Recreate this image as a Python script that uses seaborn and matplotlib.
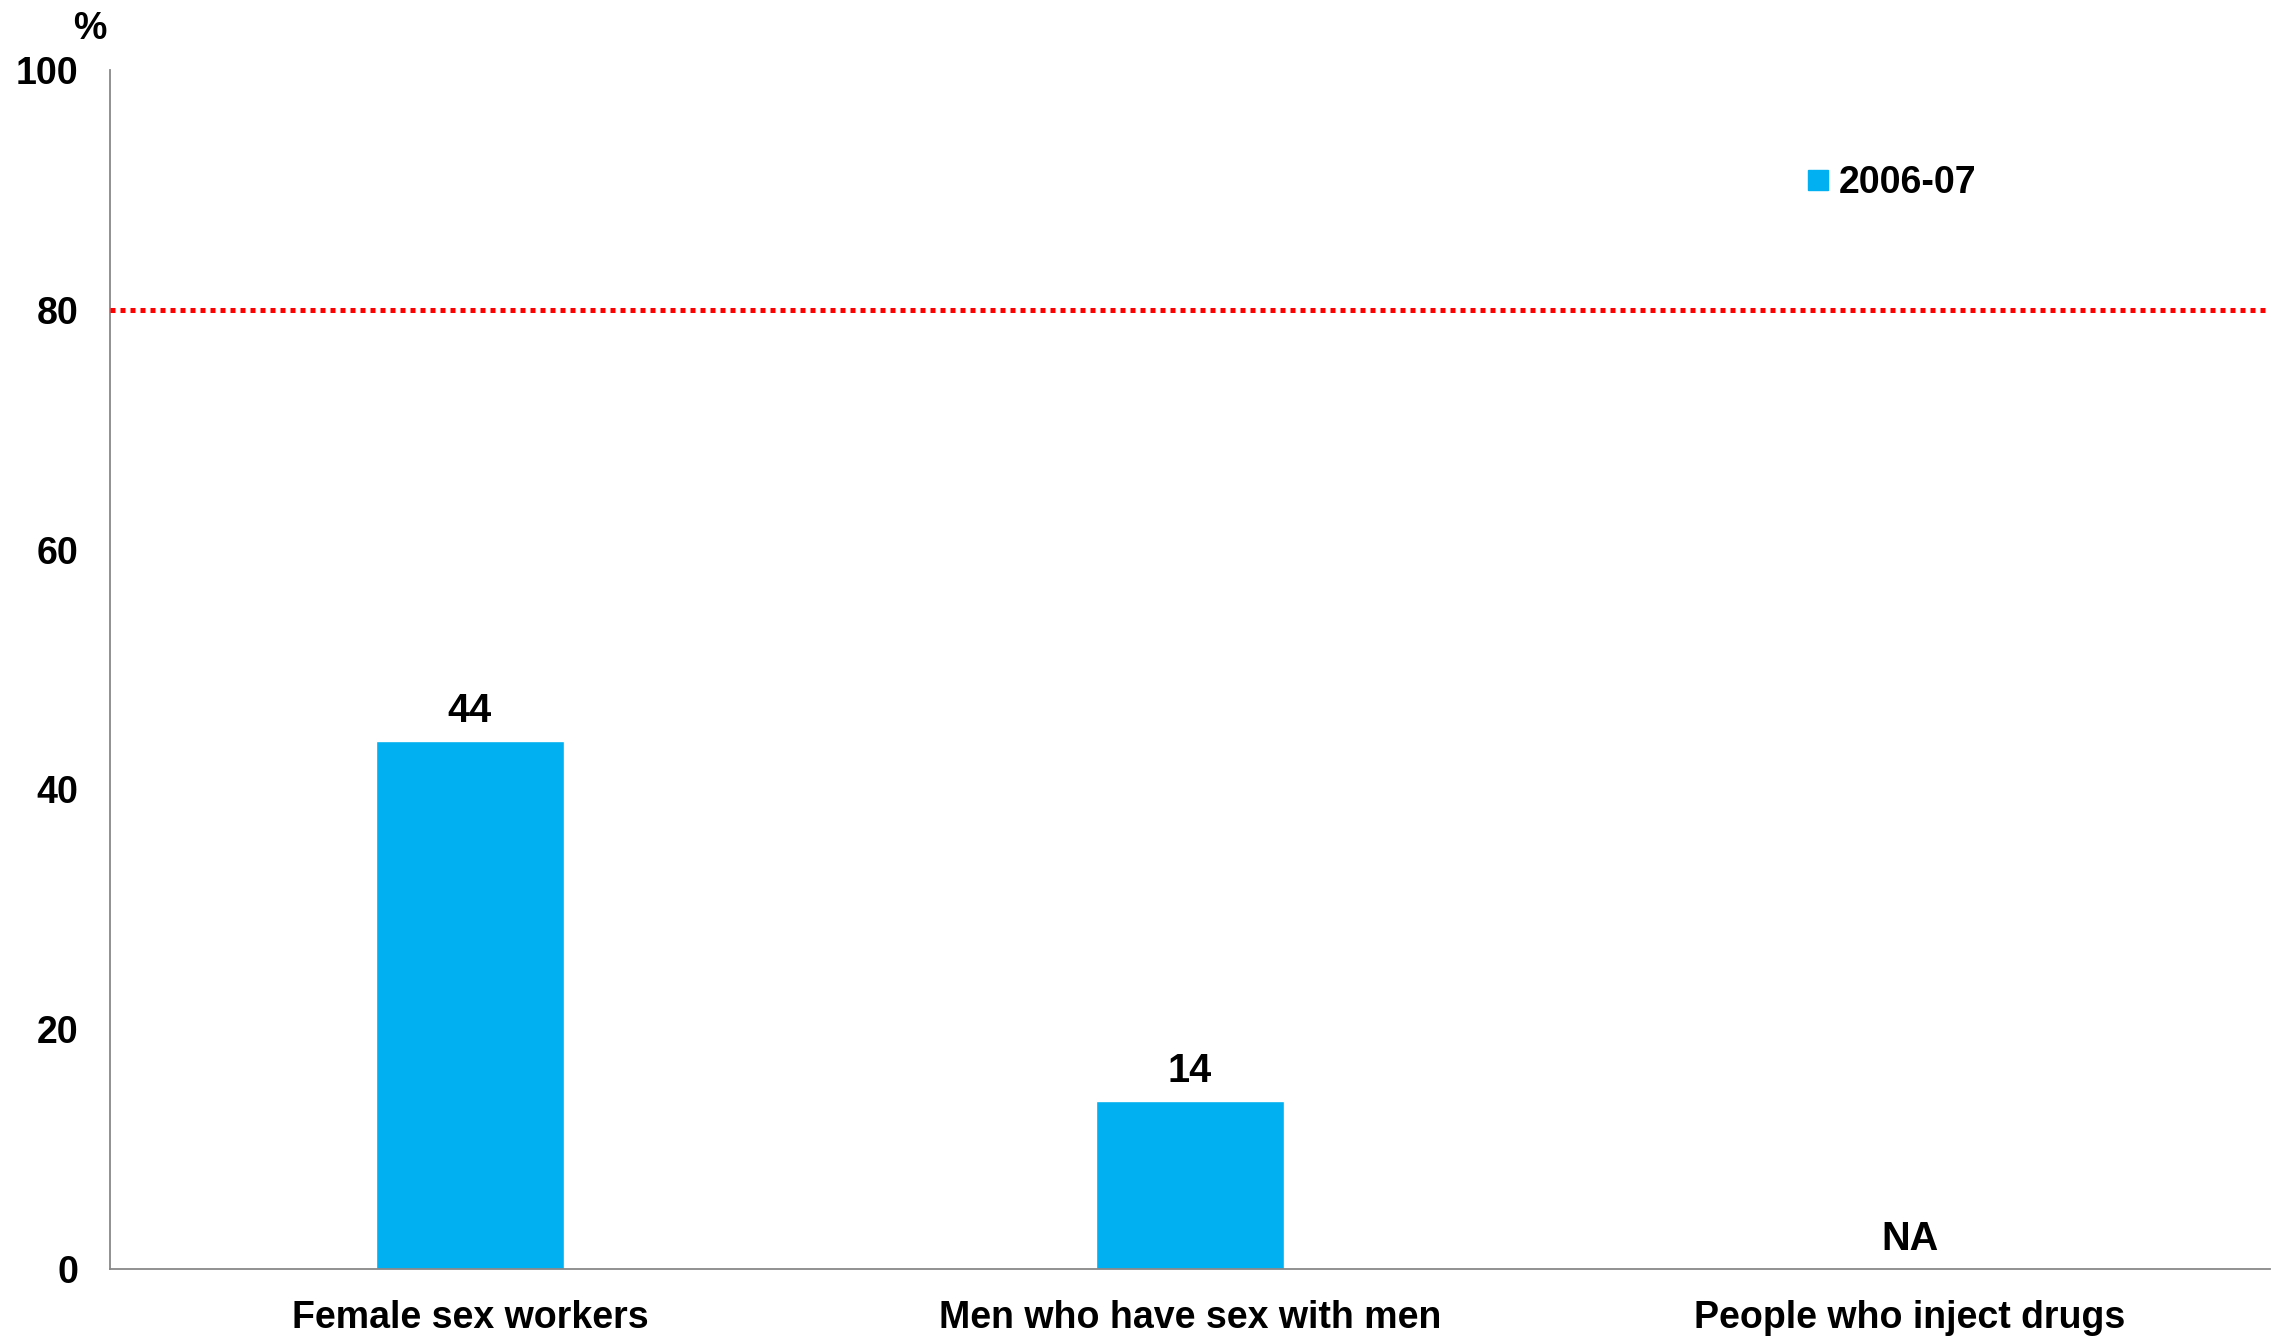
import numpy as np
import pandas as pd
import matplotlib
matplotlib.use("Agg")
import matplotlib.pyplot as plt
from matplotlib.lines import Line2D
import seaborn as sns

categories = ["Female sex workers", "Men who have sex with men", "People who inject drugs"]
values_2006_07 = [44, 14, np.nan]
bar_labels = ["44", "14", "NA"]
series_name = "2006-07"
target_value = 80
yticks = [0, 20, 40, 60, 80, 100]

sns.set_theme(style="white")
plt.rcParams['font.family'] = ['Liberation Sans', 'DejaVu Sans']
plt.rcParams['font.weight'] = 'bold'
plt.rcParams['text.color'] = 'black'
plt.rcParams['xtick.color'] = 'black'
plt.rcParams['ytick.color'] = 'black'

df = pd.DataFrame({"Group": categories, "Value": values_2006_07, "Year": series_name})

fig = plt.figure(figsize=(22.72, 13.37), dpi=100)
ax = fig.add_axes([110/2272, 1 - 1269/1337, 2160/2272, 1199/1337])

sns.barplot(data=df, x="Group", y="Value", hue="Year", palette=["#00B0F0"],
            width=0.26, dodge=False, ax=ax, legend=False, saturation=1)

ax.set_xlim(-0.5, 2.5)
ax.set_ylim(0, 100)
ax.set_yticks(yticks)
ax.set_yticklabels([str(t) for t in yticks], fontsize=27, fontweight='bold', color='black')
ax.set_xlabel("")
ax.set_ylabel("")

# x ticks at category boundaries, labels at centers
ax.set_xticks([0, 1, 2])
ax.set_xticklabels(categories, fontsize=27, fontweight='bold', color='black')
ax.tick_params(axis='x', length=0, pad=22)
ax.set_xticks([-0.5, 0.5, 1.5, 2.5], minor=True)
ax.tick_params(axis='x', which='minor', length=8, width=1.3, color='#888888', direction='out')
ax.tick_params(axis='y', length=8, width=1.3, color='#888888', labelcolor='black',
               direction='out', pad=15)

for s in ['top', 'right']:
    ax.spines[s].set_visible(False)
for s in ['left', 'bottom']:
    ax.spines[s].set_color('#888888')
    ax.spines[s].set_linewidth(1.3)

# target line
ax.axhline(target_value, color='#FF0000', linestyle=(0, (1, 1)), linewidth=3.6,
           dash_capstyle='butt', zorder=3)

# data labels
for i, (v, lab) in enumerate(zip(values_2006_07, bar_labels)):
    yv = 0 if np.isnan(v) else v
    ax.annotate(lab, xy=(i, yv), xytext=(0, 19),
                textcoords='offset pixels', ha='center', va='baseline',
                fontsize=28.5, fontweight='bold', color='black')

# % label
fig.text(90/2272, 1 - 29/1337, "%", fontsize=27, fontweight='bold', ha='center',
         va='center', color='black')

# legend
handle = Line2D([], [], marker='s', linestyle='none', markersize=14, color='#00B0F0')
leg = ax.legend([handle], [series_name], loc='center left',
                bbox_to_anchor=(1809/2272, 1 - 183/1337), bbox_transform=fig.transFigure,
                frameon=False, prop={'size': 27, 'weight': 'bold'},
                handlelength=0.5, handletextpad=0.3, borderpad=0, borderaxespad=0)
for t in leg.get_texts():
    t.set_color('black')

fig.savefig("out.png", dpi=100)
